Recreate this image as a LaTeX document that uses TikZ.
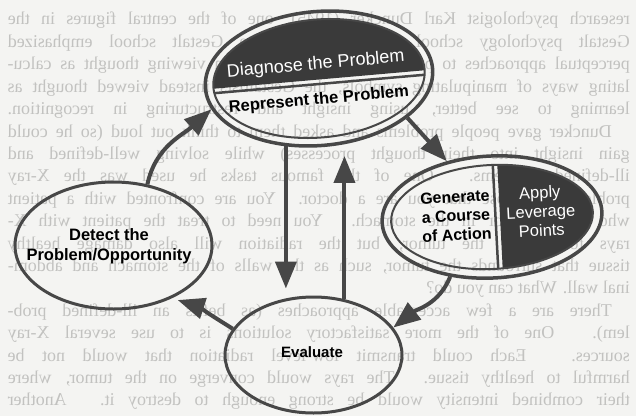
\documentclass[tikz,border=0pt]{standalone}
\usepackage{fontspec}
\setmainfont{Liberation Sans}
\newfontfamily\pageserif{Liberation Serif}
\usetikzlibrary{arrows.meta,shapes.geometric}

\definecolor{ink}{HTML}{474747}
\definecolor{darkfill}{HTML}{3A3A3A}
\definecolor{paper}{HTML}{F4F4F2}
\definecolor{ghost}{HTML}{C2C2C0}

\tikzset{
  ring/.style={ellipse, draw=ink, line width=3pt, inner sep=0pt},
  arr/.style={draw=ink, line width=4pt,
    -{Triangle[length=27pt,width=21pt]}},
  boldlabel/.style={font=\fontsize{16.5}{20}\selectfont\bfseries, text=black, align=center, inner sep=0pt},
  whitelabel/.style={font=\fontsize{16.5}{19}\selectfont, text=white, align=center, inner sep=0pt},
  pageline/.style={anchor=base west, inner sep=0pt, text=ghost, transform shape,
    font=\pageserif\fontsize{18}{22}\selectfont},
}

% one justified line of the printed page seen through the sheet
\newcommand\fullline[2]{\node[pageline] (pl#1) at (6,{391-22.4*#1}) {\makebox[622pt][s]{#2}};}
\newcommand\shortline[2]{\node[pageline] (pl#1) at (6,{391-22.4*#1}) {#2};}

\begin{document}
\begin{tikzpicture}[x=1pt,y=1pt]
  % page
  \fill[paper] (0,0) rectangle (636,416);
  \useasboundingbox (0,0) rectangle (636,416);

  % ---- text from the reverse side of the sheet (mirrored) ----
  \begin{scope}[shift={(636,0)}, xscale=-1]
    \fullline{0}{research psychologist Karl Duncker (1945), one of the central figures in the}
    \fullline{1}{Gestalt psychology school of thought. The Gestalt school emphasized}
    \fullline{2}{perceptual approaches to problem solving; rather than viewing thought as calcu-}
    \fullline{3}{lating ways of manipulating symbols, the Gestaltists instead viewed thought as}
    \fullline{4}{learning to see better, using insight and restructuring in recognition.}
    \fullline{5}{\hspace{18pt}Duncker gave people problems and asked them to think out loud (so he could}
    \fullline{6}{gain insight into their thought processes) while solving well-defined and}
    \fullline{7}{ill-defined problems. One of the famous tasks he used was the X-ray}
    \fullline{8}{problem. Suppose that you are a doctor. You are confronted with a patient}
    \fullline{9}{who has a tumor in the stomach. You need to treat the patient with X-}
    \fullline{10}{rays to destroy the tumor, but the radiation will also damage healthy}
    \fullline{11}{tissue that surrounds the tumor, such as the walls of the stomach and abdom-}
    \shortline{12}{inal wall. What can you do?}
    \fullline{13}{\hspace{18pt}There are a few acceptable approaches (as befits an ill-defined prob-}
    \fullline{14}{lem). One of the more satisfactory solutions is to use several X-ray}
    \fullline{15}{sources. Each could transmit low-level radiation that would not be}
    \fullline{16}{harmful to healthy tissue. The rays would converge on the tumor, where}
    \fullline{17}{their combined intensity would be strong enough to destroy it. Another}
  \end{scope}

  % ---- Diagnose / Represent (top) ----
  \node[ring, line width=3.5pt, minimum width=228pt, minimum height=134pt, rotate=5]
    (diag) at (319,337.5) {};
  \begin{scope}[shift={(319,337.5)}, rotate=5]
    \begin{scope}
      \clip (0,0) ellipse [x radius=106pt, y radius=59pt];
      \fill[darkfill] (-120,-1) rectangle (120,70);
      \draw[ink, line width=2.5pt] (-120,-5.5) -- (120,-5.5);
    \end{scope}
    \draw[ink, line width=2pt] (0,0) ellipse [x radius=106pt, y radius=59pt];
    \node[font=\fontsize{18}{20}\selectfont, text=white, inner sep=0pt, transform shape]
      (diagtxt) at (-2,14) {Diagnose the Problem};
    \node[font=\fontsize{16.5}{20}\selectfont\bfseries, text=black, inner sep=0pt, transform shape]
      (reptxt) at (-2,-21.5) {Represent the Problem};
  \end{scope}

  % ---- Generate / Apply (right) ----
  \node[ring, line width=3.5pt, minimum width=220pt, minimum height=122pt, rotate=3]
    (gen) at (492,199) {};
  \begin{scope}[shift={(492,199)}, rotate=3]
    \begin{scope}
      \clip (0,0) ellipse [x radius=101pt, y radius=52pt];
      \fill[darkfill] (8,-60) rectangle (110,60);
      \draw[ink, line width=2.5pt] (3.5,-60) -- (3.5,60);
    \end{scope}
    \draw[ink, line width=2pt] (0,0) ellipse [x radius=101pt, y radius=52pt];
    \node[boldlabel, font=\fontsize{16}{19}\selectfont\bfseries, transform shape]
      (gentxt) at (-36,3) {Generate\\a Course\\of Action};
    \node[whitelabel, transform shape] (apptxt) at (49,3) {Apply\\Leverage\\Points};
  \end{scope}

  % ---- Detect (left) ----
  \node[ring, minimum width=197pt, minimum height=127pt] (detect) at (113.5,170.5) {};
  \node[boldlabel] (dettxt) at (109,170) {Detect the\\Problem/Opportunity};

  % ---- Evaluate (bottom) ----
  \node[ring, minimum width=177pt, minimum height=116pt] (eval) at (313.5,61) {};
  \node[boldlabel, font=\fontsize{15}{18}\selectfont\bfseries] (evaltxt) at (312,64) {Evaluate};

  % ---- connectors ----
  \draw[arr] (detect.61) to[out=78, in=222] (diag.191);
  \draw[arr] (diag.331) -- (gen.126);
  \draw[arr] (gen.232) to[out=248, in=38] (eval.19);
  \draw[arr, shorten >=6pt] (eval.162) to[out=148, in=-18] (detect.318);
  \draw[arr, shorten >=7pt] (diag.239) -- (diag.239 |- eval.north);
  \draw[arr, shorten >=9pt] (eval.61) -- (eval.61 |- diag.south);
\end{tikzpicture}
\end{document}
